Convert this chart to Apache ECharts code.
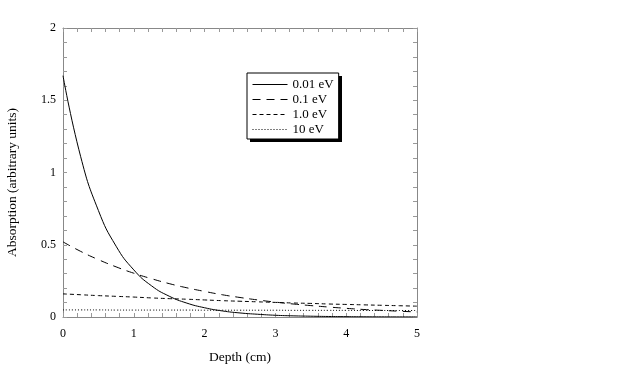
<!DOCTYPE html>
<html>
<head>
<meta charset="utf-8">
<script src="https://cdn.jsdelivr.net/npm/echarts@6/dist/echarts.min.js"></script>
<style>
  html, body { margin: 0; padding: 0; background: #fff; }
  #chart { width: 623px; height: 374px; }
</style>
</head>
<body>
<div id="chart"></div>
<script>
// depth samples (cm)
const depth = [0, 0.25, 0.5, 0.75, 1, 1.25, 1.5, 1.75, 2, 2.25, 2.5, 2.75, 3, 3.25, 3.5, 3.75, 4, 4.25, 4.5, 4.75, 5];
// absorption
const abs001 = [1.67, 1.109, 0.737, 0.490, 0.326, 0.216, 0.144, 0.096, 0.064, 0.042, 0.028, 0.019, 0.012, 0.008, 0.0055, 0.0036, 0.0024, 0.0016, 0.0011, 0.0007, 0.0005];
const abs01 = [0.52, 0.454, 0.397, 0.347, 0.303, 0.265, 0.231, 0.202, 0.177, 0.154, 0.135, 0.118, 0.103, 0.090, 0.079, 0.069, 0.060, 0.052, 0.046, 0.040, 0.035];
const abs10 = [0.160, 0.154, 0.148, 0.143, 0.138, 0.132, 0.127, 0.123, 0.118, 0.113, 0.109, 0.105, 0.101, 0.097, 0.094, 0.090, 0.087, 0.084, 0.081, 0.078, 0.075];
const abs100 = [0.049, 0.049, 0.049, 0.048, 0.048, 0.048, 0.048, 0.048, 0.047, 0.047, 0.047, 0.047, 0.047, 0.046, 0.046, 0.046, 0.046, 0.045, 0.045, 0.045, 0.045];
const names = ['0.01 eV', '0.1 eV', '1.0 eV', '10 eV'];

const font = 'Liberation Serif';
const chart = echarts.init(document.getElementById('chart'));

function pairs(ys) {
    return depth.map((x, i) => [x, ys[i]]);
}

// ticks every minor step, labels only on the major ones
function onMajor(step) {
    return function (v) {
        const k = v / step;
        return Math.abs(k - Math.round(k)) < 1e-6 ? String(Math.round(v * 10) / 10) : '';
    };
}

function mkX(pos, show) {
    return {
        type: 'value', min: 0, max: 5, interval: 0.2, position: pos,
        axisLine: { show: true, onZero: false, lineStyle: { color: '#888', width: 1 } },
        axisTick: { show: true, inside: true, length: 4, lineStyle: { color: '#999' } },
        splitLine: { show: false },
        axisLabel: { show: show, color: '#000', fontFamily: font, fontSize: 12, margin: 11, formatter: onMajor(1) },
        name: show ? 'Depth (cm)' : '', nameLocation: 'middle', nameGap: 33,
        nameTextStyle: { color: '#000', fontFamily: font, fontSize: 13.5 }
    };
}
function mkY(pos, show) {
    return {
        type: 'value', min: 0, max: 2, interval: 0.1, position: pos,
        axisLine: { show: true, onZero: false, lineStyle: { color: '#888', width: 1 } },
        axisTick: { show: true, inside: true, length: 4, lineStyle: { color: '#999' } },
        splitLine: { show: false },
        axisLabel: { show: show, color: '#000', fontFamily: font, fontSize: 12, margin: 7, formatter: onMajor(0.5) },
        name: show ? 'Absorption (arbitrary units)' : '', nameLocation: 'middle', nameGap: 44,
        nameTextStyle: { color: '#000', fontFamily: font, fontSize: 13.5, padding: [0, 20, 0, 0] }
    };
}

const dashes = ['solid', [8, 6], [4, 3], [1, 2]];
const values = [abs001, abs01, abs10, abs100];

let option = {
    animation: false,
    grid: { left: 63, top: 28, width: 354, height: 289, outerBoundsMode: 'none', containLabel: false },
    xAxis: [mkX('bottom', true), mkX('top', false)],
    yAxis: [mkY('left', true), mkY('right', false)],
    // hard drop shadow behind the legend box
    graphic: [{
        type: 'rect', left: 250, top: 76, z: 1,
        shape: { width: 92, height: 66 },
        style: { fill: '#000' }
    }],
    legend: {
        orient: 'vertical', left: 247, top: 73, z: 5,
        data: names,
        itemWidth: 35, itemHeight: 12, itemGap: 0,
        padding: [4, 5, 2, 5],
        backgroundColor: '#fff',
        borderColor: '#000', borderWidth: 1, borderRadius: 0,
        itemStyle: { opacity: 0 },
        lineStyle: { width: 1 },
        textStyle: { color: '#000', fontFamily: font, fontSize: 13, lineHeight: 15 }
    },
    series: names.map((n, i) => ({
        name: n, type: 'line', smooth: true, showSymbol: false, symbol: 'none',
        data: pairs(values[i]),
        lineStyle: { color: '#000', width: 1, type: dashes[i] },
        itemStyle: { color: '#000' }
    }))
};

chart.setOption(option);
</script>
</body>
</html>
